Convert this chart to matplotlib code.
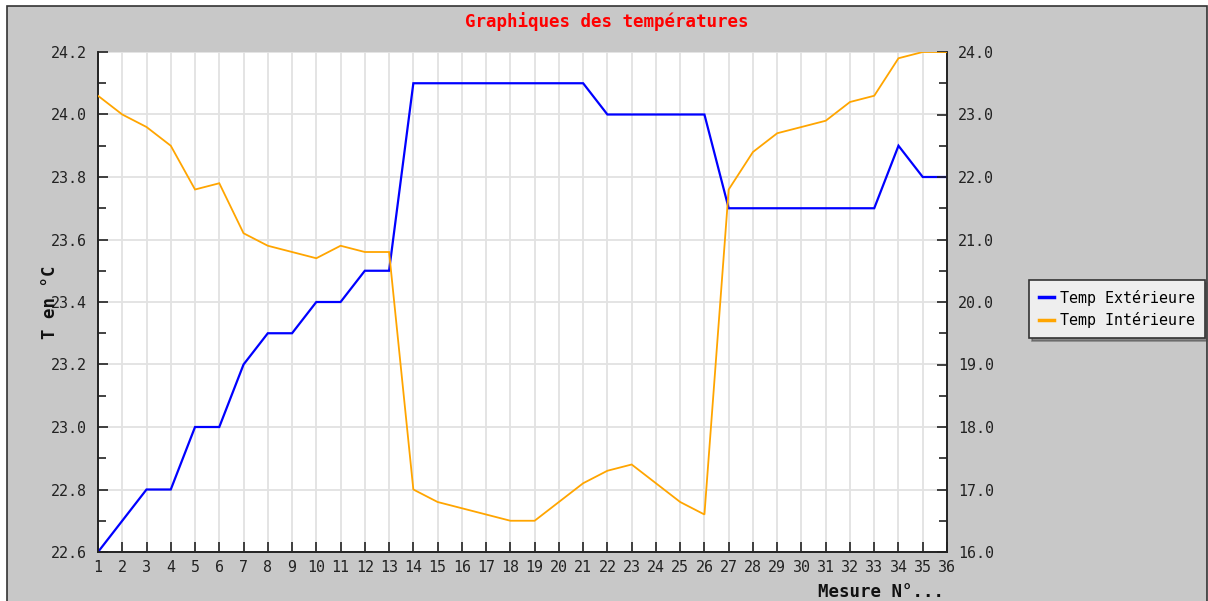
import matplotlib
matplotlib.use("Agg")
import matplotlib.pyplot as plt
from matplotlib.patches import Rectangle
from matplotlib.ticker import MultipleLocator, FormatStrFormatter

# Measurement numbers
mesures = list(range(1, 37))

# Outside temperature (left axis, °C)
temp_ext = [22.6, 22.7, 22.8, 22.8, 23.0, 23.0, 23.2, 23.3, 23.3, 23.4,
            23.4, 23.5, 23.5, 24.1, 24.1, 24.1, 24.1, 24.1, 24.1, 24.1,
            24.1, 24.0, 24.0, 24.0, 24.0, 24.0, 23.7, 23.7, 23.7, 23.7,
            23.7, 23.7, 23.7, 23.9, 23.8, 23.8]

# Inside temperature (right axis, °C)
temp_int = [23.3, 23.0, 22.8, 22.5, 21.8, 21.9, 21.1, 20.9, 20.8, 20.7,
            20.9, 20.8, 20.8, 17.0, 16.8, 16.7, 16.6, 16.5, 16.5, 16.8,
            17.1, 17.3, 17.4, 17.1, 16.8, 16.6, 21.8, 22.4, 22.7, 22.8,
            22.9, 23.2, 23.3, 23.9, 24.0, 24.0]

titre = "Graphiques des températures"
label_ext = "Temp Extérieure"
label_int = "Temp Intérieure"

W, H = 1208, 601
BG = "#C8C8C8"
MONO = "DejaVu Sans Mono"

fig = plt.figure(figsize=(W / 100, H / 100), dpi=100, facecolor="white")

# Gray panel with dark border, kept behind the axes
fig.patches.append(Rectangle((7 / W, -0.05), (1207 - 7) / W, 1.05 - 6 / H,
                             transform=fig.transFigure, facecolor=BG,
                             edgecolor="#333333", linewidth=1.2, zorder=-10))

left, right, top, bottom = 98, 947, 52, 552
ax = fig.add_axes([left / W, 1 - bottom / H, (right - left) / W, (bottom - top) / H])
ax.set_facecolor("white")
ax2 = ax.twinx()

ax.plot(mesures, temp_ext, color="#0000FF", linewidth=1.6, label=label_ext,
        solid_joinstyle="miter", zorder=3)
ax2.plot(mesures, temp_int, color="#FFA500", linewidth=1.3, label=label_int,
         solid_joinstyle="miter", zorder=3)

ax.set_xlim(1, 36)
ax.set_ylim(22.6, 24.2)
ax2.set_ylim(16.0, 24.0)

ax.set_xticks(mesures)
ax.yaxis.set_major_locator(MultipleLocator(0.2))
ax.yaxis.set_minor_locator(MultipleLocator(0.1))
ax.yaxis.set_major_formatter(FormatStrFormatter("%.1f"))
ax2.yaxis.set_major_locator(MultipleLocator(1.0))
ax2.yaxis.set_minor_locator(MultipleLocator(0.5))
ax2.yaxis.set_major_formatter(FormatStrFormatter("%.1f"))

ax.grid(True, which="major", color="#E2E2E2", linewidth=1.3)
ax.set_axisbelow(True)

tick_kw = dict(direction="in", color="#222222", labelsize=10.8, labelcolor="#222222")
ax.tick_params(axis="both", which="major", length=7, width=1.2, pad=8, **tick_kw)
ax.tick_params(axis="y", which="minor", length=6, width=1.2, direction="in", color="#222222")
ax2.tick_params(axis="y", which="major", length=7, width=1.2, pad=8, **tick_kw)
ax2.tick_params(axis="y", which="minor", length=6, width=1.2, direction="in", color="#222222")
ax.tick_params(axis="x", pad=6)

for a in (ax, ax2):
    for lbl in a.get_xticklabels() + a.get_yticklabels():
        lbl.set_family(MONO)
    a.spines["top"].set_visible(False)
    for s in ("left", "right", "bottom"):
        a.spines[s].set_color("#222222")
        a.spines[s].set_linewidth(1.2)

ax.set_ylabel("T en °C", family=MONO, fontweight="bold", fontsize=12.5, color="#111111")
ax.yaxis.set_label_coords(-0.0565, 0.5)
ax.yaxis.label.set_va("center")

ax.set_xlabel("Mesure N°...", family=MONO, fontweight="bold", fontsize=12.5,
              color="#111111", loc="right")
ax.xaxis.set_label_coords(0.997, -0.08)
ax.xaxis.label.set_va("center")
ax.xaxis.label.set_ha("right")

fig.text(607 / W, 1 - 22 / H, titre, family=MONO, fontweight="bold", fontsize=12.6,
         color="#FF0000", ha="center", va="center")

handles = ax.get_lines() + ax2.get_lines()
leg = fig.legend(handles, [h.get_label() for h in handles],
                 loc="center left", bbox_to_anchor=(1029 / W, 1 - 309 / H),
                 prop={"family": MONO, "size": 10.8}, frameon=True, fancybox=False,
                 shadow=True, facecolor="#EEEEEE", edgecolor="#333333",
                 handlelength=1.0, handletextpad=0.4, labelspacing=0.45,
                 borderpad=0.65, borderaxespad=0)
leg.get_frame().set_linewidth(1.2)
for line in leg.get_lines():
    line.set_linewidth(2.5)

fig.savefig("out.png", dpi=100, facecolor=fig.get_facecolor())
